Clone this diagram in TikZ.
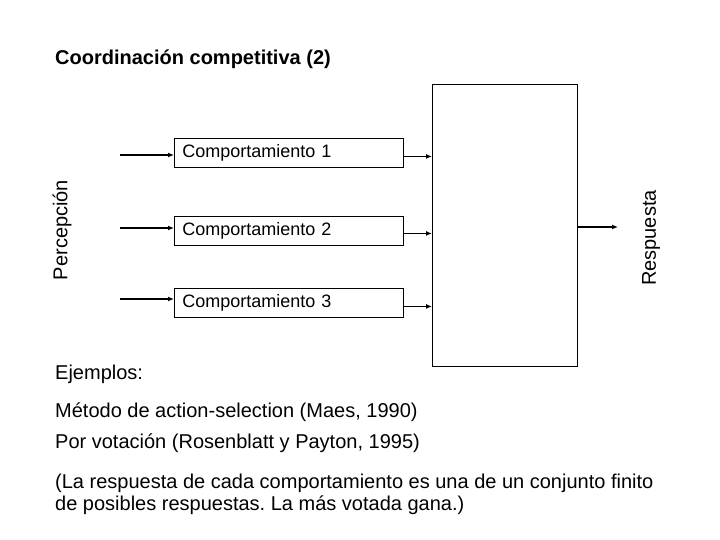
\documentclass[tikz,border=0pt]{standalone}
\usepackage{fontspec}
\setmainfont{Liberation Sans}
\usetikzlibrary{arrows.meta}
\frenchspacing
\tikzset{
  behbox/.style={draw, line width=0.9pt, anchor=north west, minimum width=229pt, minimum height=29pt,
    inner xsep=8pt, inner ysep=0pt, text width=213pt, align=left, font=\fontsize{18}{21}\selectfont},
  bigbox/.style={draw, line width=0.9pt, anchor=north west, minimum width=145pt, minimum height=282pt, inner sep=0pt},
  arr/.style={line width=1.6pt, -{Latex[length=6pt,width=5pt]}},
  sidelabel/.style={rotate=90, font=\fontsize{20}{24}\selectfont, inner sep=0pt},
  bodytext/.style={anchor=base west, inner sep=0pt, font=\fontsize{20}{22}\selectfont\frenchspacing},
}
\begin{document}
\begin{tikzpicture}[x=1pt,y=-1pt]
\useasboundingbox (0,0) rectangle (720,540);
\fill[white] (0,0) rectangle (720,540);

\node[anchor=base west, inner sep=0pt, font=\fontsize{20}{24}\selectfont\bfseries] (title) at (55,65) {Coordinación competitiva (2)};

\node[behbox] (b1) at (174,138) {Comportamiento 1};
\node[behbox] (b2) at (174,216) {Comportamiento 2};
\node[behbox] (b3) at (174,288) {Comportamiento 3};

\node[bigbox] (big) at (432,84) {};

\coordinate (i1) at (120,155);
\coordinate (i2) at (120,228);
\coordinate (i3) at (120,299);
\draw[arr] (i1) -- (i1 -| b1.west);
\draw[arr] (i2) -- (i2 -| b2.west);
\draw[arr] (i3) -- (i3 -| b3.west);

\draw[arr] ([yshift=-3.5pt]b1.east) -- ([yshift=-3.5pt]b1.east -| big.west);
\draw[arr] ([yshift=-2.5pt]b2.east) -- ([yshift=-2.5pt]b2.east -| big.west);
\draw[arr] ([yshift=-3.5pt]b3.east) -- ([yshift=-3.5pt]b3.east -| big.west);

\coordinate (out) at (618,227);
\draw[arr] (big.east |- out) -- (out);

\node[sidelabel] (perc) at (62,230) {Percepción};
\node[sidelabel] (resp) at (651,238) {Respuesta};

\node[bodytext] (ej) at (55,379) {Ejemplos:};
\node[bodytext] (ex1) at (55,417) {Método de action-selection (Maes, 1990)};
\node[bodytext] (ex2) at (55,448) {Por votación (Rosenblatt y Payton, 1995)};
\node[bodytext] (ex3a) at (55,488) {(La respuesta de cada comportamiento es una de un conjunto finito};
\node[bodytext] (ex3b) at (55,510) {de posibles respuestas. La más votada gana.)};
\end{tikzpicture}
\end{document}
